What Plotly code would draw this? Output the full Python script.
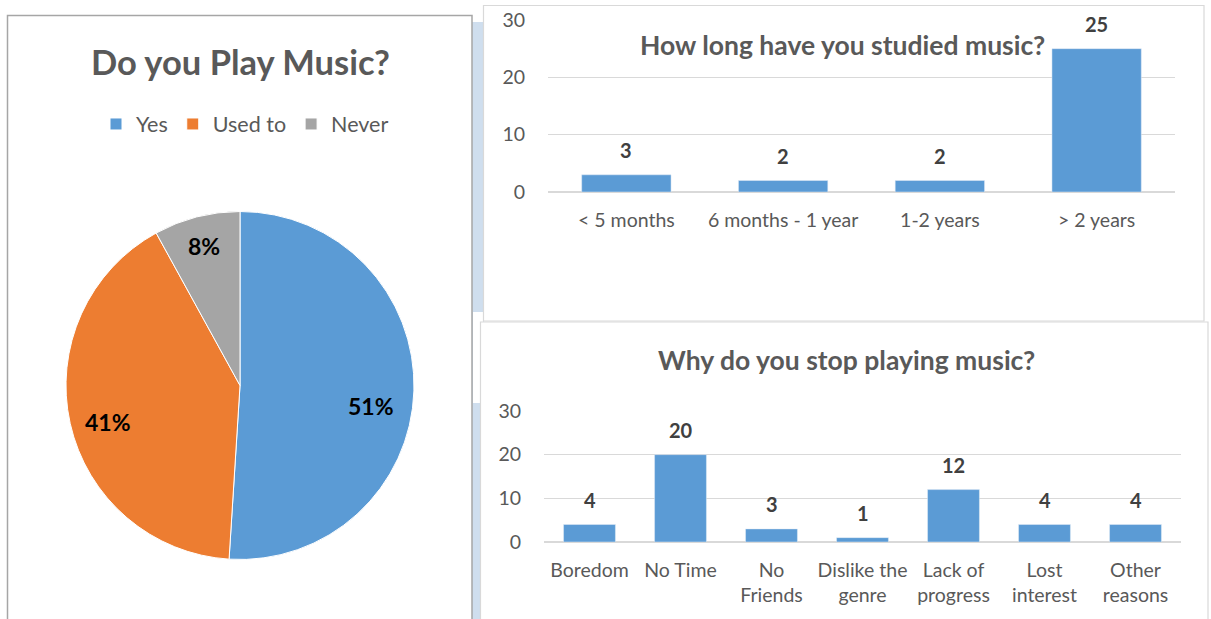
import math
import plotly.graph_objects as go

W, H = 1211, 619

pie_labels = ["Yes", "Used to", "Never"]
pie_values = [51, 41, 8]
pie_colors = ["#5B9BD5", "#ED7D31", "#A5A5A5"]

study_cats = ["< 5 months", "6 months - 1 year", "1-2 years", "> 2 years"]
study_vals = [3, 2, 2, 25]

stop_cats = ["Boredom", "No Time", "No<br>Friends", "Dislike the<br>genre",
             "Lack of<br>progress", "Lost<br>interest", "Other<br>reasons"]
stop_vals = [4, 20, 3, 1, 12, 4, 4]

FONT = "Lato"
GRAY = "#595959"
BAR = "#5B9BD5"


def px(x):
    return x / W


def py(y):
    return 1 - y / H


# pie geometry (pixels)
PIE_CX, PIE_CY, PIE_R = 240, 385.5, 174

fig = go.Figure()

fig.add_trace(go.Pie(
    labels=pie_labels, values=pie_values, sort=False, direction="clockwise",
    rotation=0, marker=dict(colors=pie_colors, line=dict(color="white", width=1)),
    textinfo="none",
    domain=dict(x=[px(PIE_CX - PIE_R), px(PIE_CX + PIE_R)],
                y=[py(PIE_CY + PIE_R), py(PIE_CY - PIE_R)]),
    showlegend=True, hoverinfo="label+percent",
))

fig.add_trace(go.Bar(x=study_cats, y=study_vals, marker_color=BAR, width=0.57,
                     xaxis="x", yaxis="y", showlegend=False))
fig.add_trace(go.Bar(x=stop_cats, y=stop_vals, marker_color=BAR, width=0.57,
                     xaxis="x2", yaxis="y2", showlegend=False))

axis_common = dict(tickfont=dict(family=FONT, size=19.5, color=GRAY), showline=False,
                   ticks="", automargin=False, fixedrange=True)
fig.update_layout(
    width=W, height=H, margin=dict(l=0, r=0, t=0, b=0, autoexpand=False),
    paper_bgcolor="white", plot_bgcolor="rgba(0,0,0,0)",
    font=dict(family=FONT, color=GRAY),
    xaxis=dict(domain=[px(548), px(1175)], anchor="y", ticklabelstandoff=14,
               **axis_common),
    yaxis=dict(domain=[py(192), py(20)], anchor="x", range=[0, 30], dtick=10,
               gridcolor="#D9D9D9", gridwidth=1, zeroline=True, zerolinecolor="#D9D9D9",
               zerolinewidth=1.5, ticklabelstandoff=22, **axis_common),
    xaxis2=dict(domain=[px(544), px(1181)], anchor="y2", ticklabelstandoff=14,
                **axis_common),
    yaxis2=dict(domain=[py(542), py(411)], anchor="x2", range=[0, 30], dtick=10,
                gridcolor="#D9D9D9", gridwidth=1, zeroline=True, zerolinecolor="#D9D9D9",
                zerolinewidth=1.5, ticklabelstandoff=22, **axis_common),
    legend=dict(orientation="h", x=px(245), xanchor="center", y=py(124), yanchor="middle",
                font=dict(family=FONT, size=21.5, color=GRAY), itemwidth=30,
                bgcolor="rgba(0,0,0,0)"),
)

shapes = [
    dict(type="rect", xref="paper", yref="paper", x0=px(472), x1=px(484), y0=py(640), y1=py(22),
         fillcolor="#CFDEEE", line=dict(width=0), layer="below"),
    dict(type="rect", xref="paper", yref="paper", x0=px(473), x1=px(483), y0=py(403), y1=py(312),
         fillcolor="#FFFFFF", line=dict(width=0), layer="below"),
    dict(type="rect", xref="paper", yref="paper", x0=px(7.5), x1=px(472), y0=py(640), y1=py(15.5),
         fillcolor="#FFFFFF", line=dict(color="#A6A6A6", width=1.5), layer="below"),
    dict(type="rect", xref="paper", yref="paper", x0=px(483.5), x1=px(1204), y0=py(321), y1=py(5.5),
         fillcolor="#FFFFFF", line=dict(color="#D9D9D9", width=1.2), layer="below"),
    dict(type="rect", xref="paper", yref="paper", x0=px(480.5), x1=px(1208), y0=py(640), y1=py(322),
         fillcolor="#FFFFFF", line=dict(color="#D9D9D9", width=1.2), layer="below"),
]
fig.update_layout(shapes=shapes)

annotations = [
    dict(text="<b>Do you Play Music?</b>", xref="paper", yref="paper", x=px(240), y=py(61),
         xanchor="center", yanchor="middle", showarrow=False,
         font=dict(family=FONT, size=34.5, color=GRAY)),
    dict(text="<b>How long have you studied music?</b>", xref="paper", yref="paper",
         x=px(843), y=py(45), xanchor="center", yanchor="middle", showarrow=False,
         font=dict(family=FONT, size=26.5, color=GRAY)),
    dict(text="<b>Why do you stop playing music?</b>", xref="paper", yref="paper",
         x=px(846), y=py(360), xanchor="center", yanchor="middle", showarrow=False,
         font=dict(family=FONT, size=26.5, color=GRAY)),
]

# pie percentage labels along each slice bisector
total = sum(pie_values)
label_r = [0.76, 0.79, 0.83]
angle_adj = [7, -3, 0]
cum = 0
for v, rf, adj in zip(pie_values, label_r, angle_adj):
    mid = (cum + v / 2) / total * 360 + adj
    cum += v
    lx = PIE_CX + rf * PIE_R * math.sin(math.radians(mid))
    ly = PIE_CY - rf * PIE_R * math.cos(math.radians(mid))
    annotations.append(dict(text=f"<b>{round(v / total * 100)}%</b>", xref="paper", yref="paper",
                            x=px(lx), y=py(ly), xanchor="center", yanchor="middle",
                            showarrow=False, font=dict(family=FONT, size=23, color="#000000")))

for c, v in zip(study_cats, study_vals):
    annotations.append(dict(text=f"<b>{v}</b>", x=c, y=v, xref="x", yref="y",
                            yanchor="middle", yshift=25, showarrow=False,
                            font=dict(family=FONT, size=20, color="#404040")))
for c, v in zip(stop_cats, stop_vals):
    annotations.append(dict(text=f"<b>{v}</b>", x=c, y=v, xref="x2", yref="y2",
                            yanchor="middle", yshift=25, showarrow=False,
                            font=dict(family=FONT, size=20, color="#404040")))
fig.update_layout(annotations=annotations)

fig.write_html("out.html", config={"displayModeBar": False})
